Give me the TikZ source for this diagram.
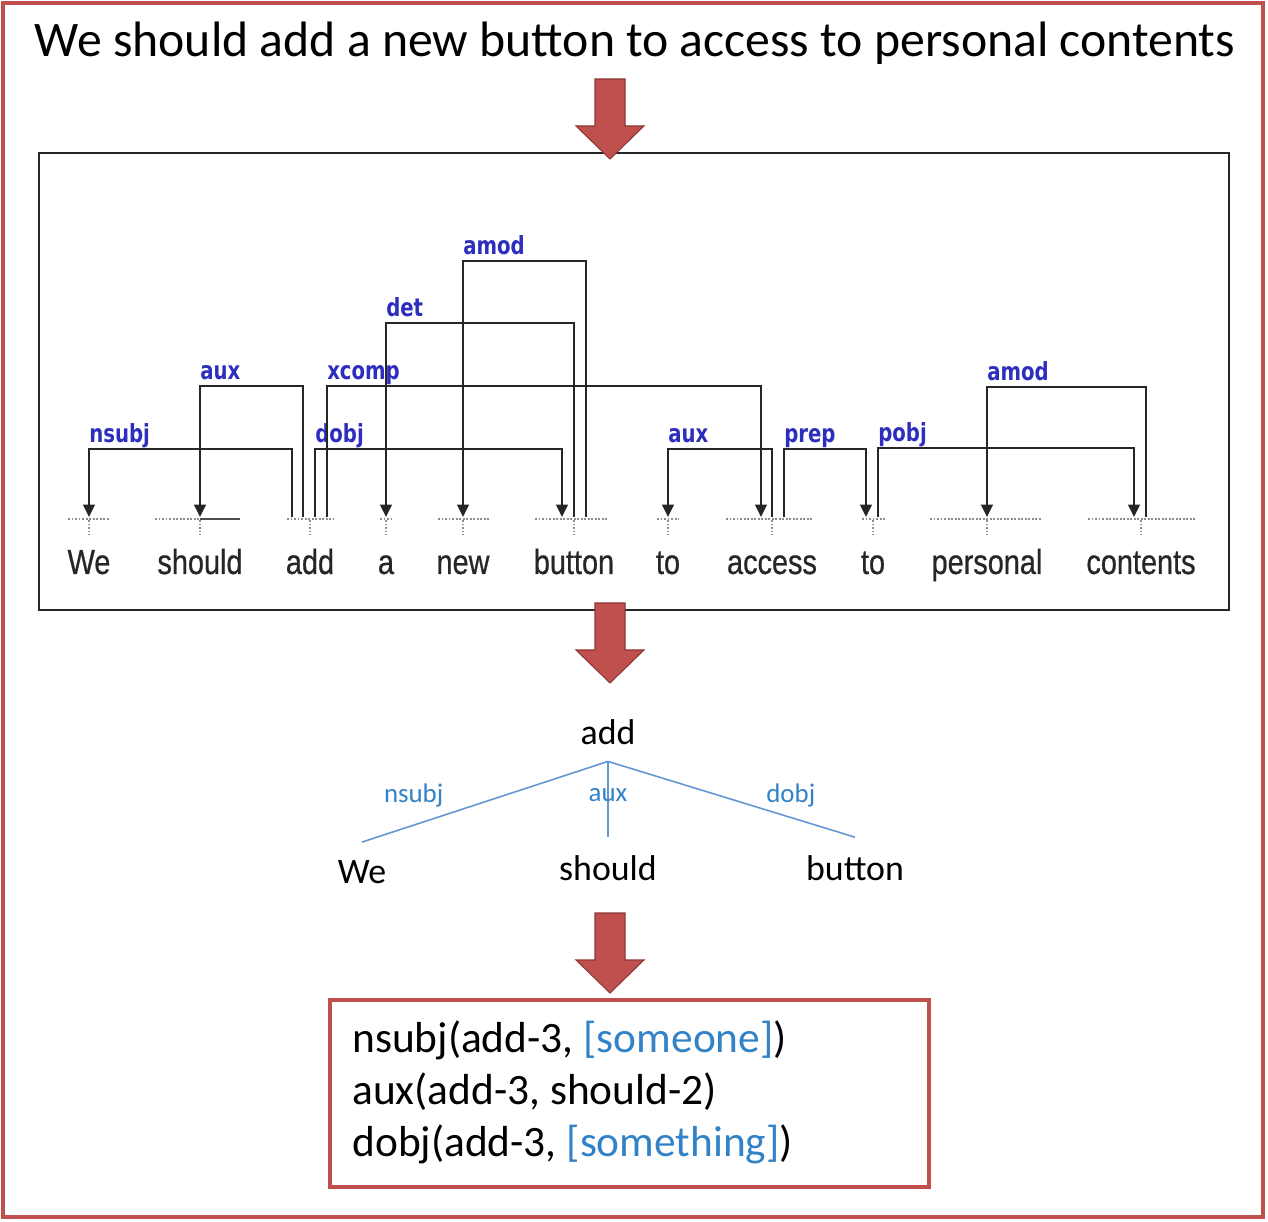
\documentclass[tikz,border=0pt]{standalone}
\usepackage{fontspec}
\setmainfont{Carlito}
\newfontfamily\depfont[FakeStretch=0.83,FakeBold=0.6]{Liberation Sans}
\newfontfamily\lblfont[FakeStretch=0.79]{DejaVu Sans}
\usetikzlibrary{arrows.meta,calc,positioning}
\definecolor{framered}{RGB}{192,80,77}
\definecolor{arrowedge}{RGB}{140,56,54}
\definecolor{lblblue}{RGB}{45,45,190}
\definecolor{treeline}{RGB}{100,150,210}
\definecolor{treeblue}{RGB}{50,130,200}

\begin{document}
\begin{tikzpicture}
    [x=0.02cm,y=-0.02cm,
    frame/.style={draw=framered,line width=2.2pt},
    blockarrow/.style={fill=framered,draw=arrowedge,line width=0.6pt},
    redarrow/.pic={\filldraw[blockarrow] (-15,0) -- (15,0) -- (15,47) -- (34,47)
        -- (0,80) -- (-34,47) -- (-15,47) -- cycle;},
    word/.style={font=\depfont\fontsize{19.8}{22}\selectfont,text=black!85,anchor=base,inner sep=0pt},
    wordline/.style={black!45,line width=1.2pt,dash pattern=on 1.1pt off 0.9pt},
    deparc/.style={line width=1.5pt,black!85,-{Triangle[length=7pt,width=6.5pt]}},
    deplabel/.style={font=\lblfont\bfseries\fontsize{14.2}{16}\selectfont,text=lblblue,
        anchor=base west,inner sep=0pt,yshift=3.6pt,xshift=-0.6pt},
    treeword/.style={font=\fontsize{20.4}{24}\selectfont,anchor=base,inner sep=10pt},
    treeedge/.style={treeline,line width=0.9pt},
    treelabel/.style={font=\fontsize{15.3}{18}\selectfont,text=treeblue},
    restext/.style={font=\fontsize{24.7}{28}\selectfont,anchor=base west,inner sep=0pt}]
    \fill[white] (0,0) rectangle (1268,1222);
    \useasboundingbox (0,0) rectangle (1268,1222);
    \draw[frame] (3,3) rectangle (1263,1217);

    % sentence
    \node[font=\fontsize{28.3}{32}\selectfont,anchor=base] (title) at (635,57)
        {We should add a new button to access to personal contents};

    % parse
    \draw[black!85,line width=1.2pt] (39,153) rectangle (1229,610);
    \foreach \name/\txt/\x/\l/\r in {we/We/89/21/20, should/should/200/45/40,
        add/add/310/23/23, a/a/386/6/7, new/new/463/25/26, button/button/574/39/34,
        to1/to/668/11/11, access/access/772/46/41, to2/to/873/11/12,
        personal/personal/987/57/55, contents/contents/1141/53/54}
    {
        \node[word] (\name) at (\x,574) {\txt};
        \coordinate (\name-d) at (\x,517);
        \draw[wordline] (\x-\l,519) -- (\x+\r,519);
        \draw[wordline] (\x,520) -- (\x,535);
    }
    \draw[black!70,line width=1.5pt] (should-d) ++(0,2) -- ++(40,0);

    \draw[deparc] (add-d) ++(-18,0) -- ++(0,-68) -| (we-d) node[deplabel,pos=.5] {nsubj};
    \draw[deparc] (add-d) ++(-7,0) -- ++(0,-131) -| (should-d) node[deplabel,pos=.5] {aux};
    \draw[deparc] (add-d) ++(5,0) -- ++(0,-68) node[deplabel,pos=1] {dobj}
        -| ($(button-d)+(-12,0)$);
    \draw[deparc] (add-d) ++(17,0) -- ++(0,-131) node[deplabel,pos=1] {xcomp}
        -| ($(access-d)+(-11,0)$);
    \draw[deparc] (button-d) -- ++(0,-194) -| (a-d) node[deplabel,pos=.5] {det};
    \draw[deparc] (button-d) ++(12,0) -- ++(0,-256) -| (new-d) node[deplabel,pos=.5] {amod};
    \draw[deparc] (access-d) -- ++(0,-68) -| (to1-d) node[deplabel,pos=.5] {aux};
    \draw[deparc] (access-d) ++(12,0) -- ++(0,-68) node[deplabel,pos=1] {prep}
        -| ($(to2-d)+(-7,0)$);
    \draw[deparc] (to2-d) ++(5,0) -- ++(0,-69) node[deplabel,pos=1] {pobj}
        -| ($(contents-d)+(-7,0)$);
    \draw[deparc] (contents-d) ++(5,0) -- ++(0,-130) -| (personal-d) node[deplabel,pos=.5] {amod};

    % tree
    \node[treeword,inner sep=9pt] (tadd) at (608,745) {add};
    \node[treeword] (twe) at (362,883) {We};
    \node[treeword] (tshould) at (608,880) {should};
    \node[treeword] (tbutton) at (855,880) {button};
    \draw[treeedge] (tadd.south) -- (twe.north) node[treelabel,pos=.79,yshift=17pt] {nsubj};
    \draw[treeedge] (tadd.south) -- (tshould.north) node[treelabel,pos=.45] {aux};
    \draw[treeedge] (tadd.south) -- (tbutton.north) node[treelabel,pos=.74,yshift=12.8pt] {dobj};

    % result
    \draw[frame] (330,1000) rectangle (929,1187);
    \node[restext] (r1) at (352,1052) {nsubj(add-3, \textcolor{treeblue}{[someone]})};
    \node[restext] (r2) at (352,1104) {aux(add-3, should-2)};
    \node[restext] (r3) at (352,1156) {dobj(add-3, \textcolor{treeblue}{[something]})};

    % arrows between steps
    \pic at (610,79) {redarrow};
    \pic at (610,603) {redarrow};
    \pic at (610,913) {redarrow};
\end{tikzpicture}
\end{document}
